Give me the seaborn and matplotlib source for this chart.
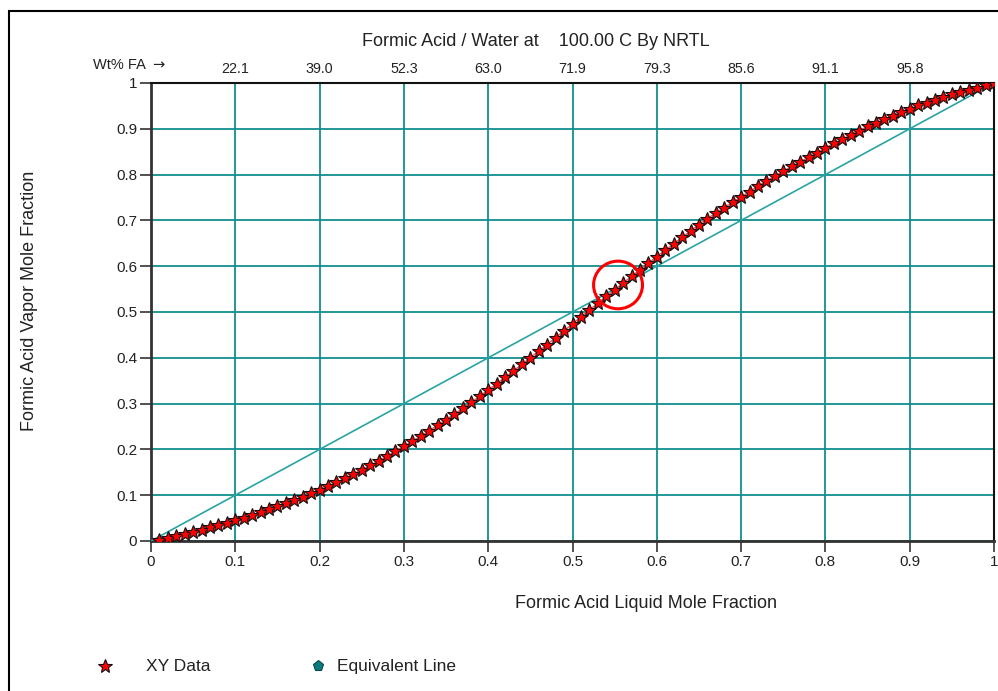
import numpy as np
import pandas as pd
import matplotlib
matplotlib.use("Agg")
import matplotlib.pyplot as plt
from matplotlib.lines import Line2D
from matplotlib.patches import Rectangle, Ellipse
import seaborn as sns

# Formic acid / water x-y equilibrium data at 100 C (NRTL)
liquid_x = [
    0.01, 0.02, 0.03, 0.04, 0.05, 0.06, 0.07, 0.08, 0.09, 0.10,
    0.11, 0.12, 0.13, 0.14, 0.15, 0.16, 0.17, 0.18, 0.19, 0.20,
    0.21, 0.22, 0.23, 0.24, 0.25, 0.26, 0.27, 0.28, 0.29, 0.30,
    0.31, 0.32, 0.33, 0.34, 0.35, 0.36, 0.37, 0.38, 0.39, 0.40,
    0.41, 0.42, 0.43, 0.44, 0.45, 0.46, 0.47, 0.48, 0.49, 0.50,
    0.51, 0.52, 0.53, 0.54, 0.55, 0.56, 0.57, 0.58, 0.59, 0.60,
    0.61, 0.62, 0.63, 0.64, 0.65, 0.66, 0.67, 0.68, 0.69, 0.70,
    0.71, 0.72, 0.73, 0.74, 0.75, 0.76, 0.77, 0.78, 0.79, 0.80,
    0.81, 0.82, 0.83, 0.84, 0.85, 0.86, 0.87, 0.88, 0.89, 0.90,
    0.91, 0.92, 0.93, 0.94, 0.95, 0.96, 0.97, 0.98, 0.99, 1.00,
]
vapor_y = [
    0.003, 0.006, 0.010, 0.015, 0.020, 0.025, 0.030, 0.035, 0.040, 0.045,
    0.051, 0.057, 0.063, 0.069, 0.076, 0.082, 0.089, 0.096, 0.104, 0.112,
    0.120, 0.128, 0.137, 0.146, 0.156, 0.165, 0.175, 0.185, 0.196, 0.207,
    0.218, 0.229, 0.241, 0.253, 0.265, 0.277, 0.290, 0.303, 0.316, 0.330,
    0.343, 0.357, 0.371, 0.386, 0.400, 0.415, 0.429, 0.444, 0.459, 0.474,
    0.489, 0.504, 0.519, 0.534, 0.548, 0.563, 0.578, 0.592, 0.607, 0.621,
    0.635, 0.649, 0.663, 0.677, 0.691, 0.704, 0.716, 0.728, 0.740, 0.751,
    0.763, 0.775, 0.786, 0.797, 0.807, 0.818, 0.828, 0.838, 0.848, 0.858,
    0.868, 0.877, 0.887, 0.896, 0.905, 0.913, 0.921, 0.929, 0.937, 0.944,
    0.951, 0.957, 0.963, 0.969, 0.975, 0.980, 0.985, 0.990, 0.995, 1.000,
]
equiv_x = [0.0, 1.0]
equiv_y = [0.0, 1.0]

tick_values = [0.0, 0.1, 0.2, 0.3, 0.4, 0.5, 0.6, 0.7, 0.8, 0.9, 1.0]
tick_labels = ["0", "0.1", "0.2", "0.3", "0.4", "0.5", "0.6", "0.7", "0.8", "0.9", "1"]
wt_positions = [0.1, 0.2, 0.3, 0.4, 0.5, 0.6, 0.7, 0.8, 0.9]
wt_labels = ["22.1", "39.0", "52.3", "63.0", "71.9", "79.3", "85.6", "91.1", "95.8"]
azeotrope_x = 0.554
azeotrope_y = 0.559

xy_df = pd.DataFrame({"x": liquid_x, "y": vapor_y})
eq_df = pd.DataFrame({"x": equiv_x, "y": equiv_y})

sns.set_theme(style="white")
plt.rcParams["font.family"] = ["Liberation Sans", "DejaVu Sans"]

TEAL = "#0a8c8c"
TXT = "#222222"

fig = plt.figure(figsize=(9.98, 6.91), dpi=100)
ax = fig.add_axes([0.1513, 0.2171, 0.8447, 0.6628])

# grid
ax.set_xticks(tick_values)
ax.set_yticks(tick_values)
ax.grid(True, color=TEAL, linewidth=1.4, alpha=0.9)
ax.set_axisbelow(True)

# 45 degree line
sns.lineplot(data=eq_df, x="x", y="y", ax=ax, color="#2aa3a3", linewidth=1.2,
             sort=False, zorder=3)

# x-y curve
sns.lineplot(data=xy_df, x="x", y="y", ax=ax, color="#ff5050", linewidth=1.0,
             marker="*", markersize=10, markerfacecolor="#ff0000",
             markeredgecolor="#111111", markeredgewidth=0.8, sort=False, zorder=4)

ax.set_xlim(0, 1)
ax.set_ylim(0, 1)
ax.set_xticklabels(tick_labels)
ax.set_yticklabels(tick_labels)
ax.set_xlabel("")
ax.set_ylabel("")
ax.tick_params(axis="both", which="both", direction="out", length=8, width=1.2,
               color="#333333", labelsize=11, labelcolor=TXT, pad=2,
               bottom=True, left=True)

for side in ["left", "bottom"]:
    ax.spines[side].set_color("#333333")
    ax.spines[side].set_linewidth(2.0)
for side in ["top", "right"]:
    ax.spines[side].set_color("#111111")
    ax.spines[side].set_linewidth(1.5)
    ax.spines[side].set_visible(True)

# azeotrope marker
ax.add_patch(Ellipse((azeotrope_x, azeotrope_y), width=0.058, height=0.104,
                     fill=False, edgecolor="red", linewidth=2.2, zorder=6))

# weight-percent scale on top
top = ax.secondary_xaxis("top")
top.set_xticks(wt_positions)
top.set_xticklabels(wt_labels)
top.tick_params(length=0, labelsize=10.3, labelcolor=TXT, pad=5)
top.spines["top"].set_visible(False)
fig.text(0.146, 0.900, "Wt% FA", ha="right", va="baseline",
         fontsize=10.5, color=TXT)
fig.text(0.152, 0.900, "\u2192", ha="left", va="baseline",
         fontsize=10.5, color=TXT, family=["DejaVu Sans"])

# titles
fig.text(0.537, 0.933, "Formic Acid / Water at    100.00 C By NRTL", ha="center",
         va="baseline", fontsize=13, color=TXT)
fig.text(0.647, 0.120, "Formic Acid Liquid Mole Fraction", ha="center",
         va="baseline", fontsize=13, color=TXT)
fig.text(0.030, 0.565, "Formic Acid Vapor Mole Fraction", ha="center",
         va="center", rotation=90, fontsize=13, color=TXT)

# legend
fig.add_artist(Line2D([0.105], [0.036], transform=fig.transFigure, marker="*",
                      markersize=10, markerfacecolor="#ff0000",
                      markeredgecolor="#111111", markeredgewidth=0.8,
                      linestyle="none"))
fig.text(0.146, 0.029, "XY Data", ha="left", va="baseline", fontsize=12.5,
         color=TXT)
fig.add_artist(Line2D([0.319], [0.036], transform=fig.transFigure, marker="p",
                      markersize=8, markerfacecolor="#0a7a7a",
                      markeredgecolor="#0a4a4a", markeredgewidth=0.8,
                      linestyle="none"))
fig.text(0.338, 0.029, "Equivalent Line", ha="left", va="baseline",
         fontsize=12.5, color=TXT)

# outer frame
fig.add_artist(Rectangle((0.009, -0.05), 1.2, 0.05 + (691 - 11) / 691,
                         transform=fig.transFigure, fill=False,
                         edgecolor="black", linewidth=1.5))

fig.savefig("out.png", dpi=100)
